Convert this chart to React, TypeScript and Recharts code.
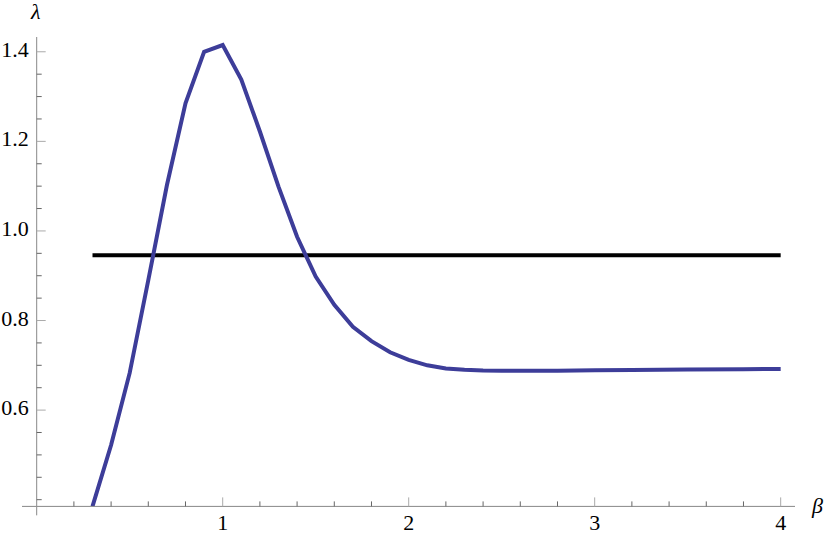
import React from "react";
import { LineChart, Line, XAxis, YAxis, ReferenceLine } from "recharts";

const betaValues = [
  0.3, 0.4, 0.5, 0.6, 0.7, 0.8, 0.9, 1.0, 1.1, 1.2, 1.3, 1.4, 1.5, 1.6, 1.7, 1.8, 1.9, 2.0,
  2.1, 2.2, 2.3, 2.4, 2.5, 2.6, 2.8, 3.0, 3.2, 3.5, 3.8, 4.0,
];
const lambdaValues = [
  0.385, 0.522, 0.683, 0.89, 1.102, 1.285, 1.4, 1.415, 1.338, 1.222, 1.099, 0.987, 0.898, 0.835,
  0.786, 0.754, 0.729, 0.712, 0.7, 0.693, 0.69, 0.6885, 0.688, 0.6878, 0.688, 0.6888, 0.6895,
  0.6905, 0.6913, 0.6918,
];
const thresholdBeta = [0.3, 4.0];
const thresholdLambda = [0.946, 0.946];

const xTicks = [
  0.2, 0.4, 0.6, 0.8, 1.0, 1.2, 1.4, 1.6, 1.8, 2.0, 2.2, 2.4, 2.6, 2.8, 3.0, 3.2, 3.4, 3.6, 3.8, 4.0,
];
const xLabels = [1, 2, 3, 4];
const yTicks = [
  0.4, 0.45, 0.5, 0.55, 0.6, 0.65, 0.7, 0.75, 0.8, 0.85, 0.9, 0.95, 1.0, 1.05, 1.1, 1.15, 1.2,
  1.25, 1.3, 1.35, 1.4,
];
const yLabels = [0.6, 0.8, 1.0, 1.2, 1.4];

const curve = betaValues.map((b, i) => ({ beta: b, lambda: lambdaValues[i] }));
const threshold = thresholdBeta.map((b, i) => ({ beta: b, lambda: thresholdLambda[i] }));

const AXIS = "#888";
const FONT = "Liberation Serif";
const X_MIN = 0;
const X_MAX = 4.077;
const Y_MIN = 0.385;
const Y_MAX = 1.433;

const near = (a: number, b: number) => Math.abs(a - b) < 1e-6;
const textStyle = { fontFamily: FONT, fontSize: 22 };

function XTick(props: any) {
  const { x, y, payload } = props;
  const major = xLabels.some((v) => near(v, payload.value));
  return (
    <g>
      <line x1={x} x2={x} y1={y} y2={y - (major ? 9 : 5)} stroke={major ? "#aaa" : "#666"} strokeWidth={1} />
      {major && (
        <text x={x} y={y + 24} textAnchor="middle" style={textStyle} fill="#000">
          {String(payload.value)}
        </text>
      )}
    </g>
  );
}

function YTick(props: any) {
  const { x, y, payload } = props;
  const major = yLabels.some((v) => near(v, payload.value));
  return (
    <g>
      <line x1={x} x2={x + (major ? 9 : 5)} y1={y} y2={y} stroke={major ? "#aaa" : "#666"} strokeWidth={1} />
      {major && (
        <text x={x - 8} y={y + 5} textAnchor="end" style={textStyle} fill="#000">
          {payload.value.toFixed(1)}
        </text>
      )}
    </g>
  );
}

export default function App() {
  return (
    <div style={{ position: "absolute", left: 0, top: 0, width: 830, height: 538, background: "#fff" }}>
      <LineChart
        width={830}
        height={538}
        margin={{ top: 37, right: 35, bottom: 30.6, left: 35.7 }}
      >
        <XAxis
          type="number"
          dataKey="beta"
          domain={[X_MIN, X_MAX]}
          ticks={xTicks}
          interval={0}
          height={1}
          tickSize={0}
          tickMargin={0}
          tickLine={false}
          axisLine={{ stroke: AXIS, strokeWidth: 1 }}
          tick={<XTick />}
          allowDataOverflow
        />
        <YAxis
          type="number"
          dataKey="lambda"
          domain={[Y_MIN, Y_MAX]}
          ticks={yTicks}
          interval={0}
          width={1}
          tickSize={0}
          tickMargin={0}
          tickLine={false}
          axisLine={{ stroke: AXIS, strokeWidth: 1 }}
          tick={<YTick />}
          allowDataOverflow
        />
        <ReferenceLine
          segment={[{ x: -0.079, y: Y_MIN }, { x: 0, y: Y_MIN }]}
          stroke={AXIS}
          strokeWidth={1}
          ifOverflow="visible"
        />
        <ReferenceLine
          segment={[{ x: 0, y: Y_MIN }, { x: 0, y: 0.365 }]}
          stroke={AXIS}
          strokeWidth={1}
          ifOverflow="visible"
        />
        <Line
          data={threshold}
          dataKey="lambda"
          type="linear"
          stroke="#000"
          strokeWidth={4}
          dot={false}
          activeDot={false}
          isAnimationActive={false}
        />
        <Line
          data={curve}
          dataKey="lambda"
          type="linear"
          stroke="#3d3d99"
          strokeWidth={4}
          strokeLinejoin="miter"
          dot={false}
          activeDot={false}
          isAnimationActive={false}
        />
      </LineChart>
      <div
        style={{
          position: "absolute",
          left: 31,
          top: 0,
          fontFamily: FONT,
          fontStyle: "italic",
          fontSize: 22,
          lineHeight: "24px",
        }}
      >
        λ
      </div>
      <div
        style={{
          position: "absolute",
          left: 812,
          top: 494,
          fontFamily: FONT,
          fontStyle: "italic",
          fontSize: 22,
          lineHeight: "24px",
        }}
      >
        β
      </div>
    </div>
  );
}
